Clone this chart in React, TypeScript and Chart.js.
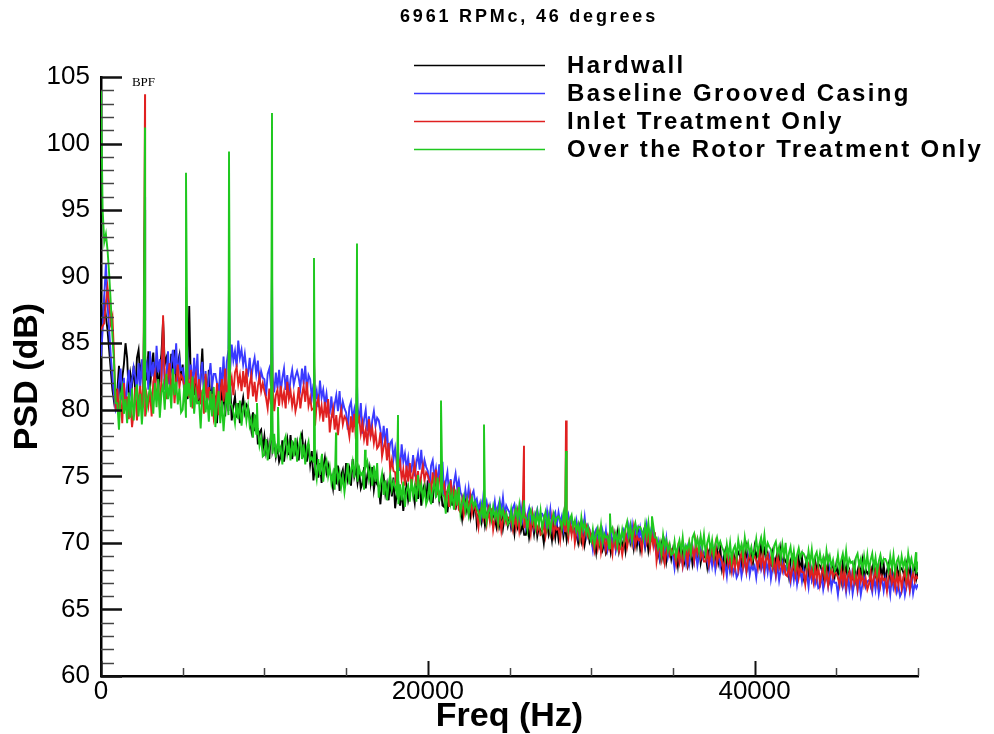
import React, { useEffect, useRef } from 'react';
import { Chart, registerables } from 'chart.js';

Chart.register(...registerables);

// ---------- texts ----------
const TITLE = '6961 RPMc, 46 degrees';
const X_TITLE = 'Freq (Hz)';
const Y_TITLE = 'PSD (dB)';
const SERIES_NAMES = ['Hardwall', 'Baseline Grooved Casing', 'Inlet Treatment Only', 'Over the Rotor Treatment Only'];
const SERIES_COLORS = ['#000000', '#3a3aff', '#e02020', '#1fc81f'];
const BPF_LABEL = 'BPF';
const BPF_LABEL_FREQ = 2600;
const BPF_LABEL_DB = 104.3;

// ---------- axes ----------
const X_MIN = 0;
const X_MAX = 50000;
const X_MINOR_STEP = 5000;
const X_MAJOR_STEP = 20000;
const Y_MIN = 60;
const Y_MAX = 105;
const Y_MINOR_STEP = 1;
const Y_MAJOR_STEP = 5;

// ---------- spectra: one value every FREQ_STEP Hz, 0 Hz .. 50 kHz (one row = 1 kHz) ----------
const FREQ_STEP = 100;

const HARDWALL = [
  85.5, 87.0, 88.2, 87.0, 86.0, 84.5, 83.0, 81.5, 80.6, 81.5,
  81.4, 83.3, 80.8, 82.4, 83.4, 85.0, 83.9, 81.1, 82.7, 81.9,
  83.3, 81.3, 83.9, 84.5, 82.5, 83.6, 81.8, 84.1, 82.2, 84.4,
  81.6, 83.3, 84.3, 81.9, 83.6, 81.3, 83.1, 84.2, 86.7, 83.4,
  83.9, 83.2, 81.9, 84.2, 82.4, 84.5, 81.6, 83.5, 84.1, 82.2,
  83.4, 81.5, 82.6, 80.8, 87.8, 81.8, 82.8, 81.1, 82.3, 80.5,
  80.5, 82.4, 84.6, 81.5, 82.5, 80.7, 83.0, 80.2, 81.8, 81.0,
  81.0, 79.0, 81.6, 82.2, 80.2, 81.3, 79.5, 81.8, 79.9, 82.1,
  79.2, 80.3, 81.0, 79.4, 80.5, 79.0, 80.2, 80.9, 79.8, 80.4,
  80.2, 79.5, 78.5, 79.8, 78.4, 79.6, 77.4, 78.3, 78.5, 77.0,
  78.0, 76.8, 77.5, 76.3, 78.3, 77.0, 77.6, 76.5, 77.3, 76.1,
  76.5, 77.7, 76.1, 77.1, 77.8, 76.6, 78.1, 76.3, 77.3, 76.8,
  77.5, 76.2, 77.8, 78.2, 76.8, 77.4, 76.1, 77.4, 75.9, 76.9,
  74.7, 75.8, 76.5, 74.9, 76.0, 74.5, 75.7, 76.4, 75.3, 75.9,
  75.4, 74.9, 74.1, 75.6, 74.4, 75.8, 73.9, 75.1, 75.5, 74.3,
  76.0, 74.8, 75.5, 74.3, 76.3, 75.0, 75.6, 74.5, 75.3, 74.1,
  74.5, 75.7, 74.1, 75.1, 75.7, 74.5, 75.7, 74.0, 74.9, 74.4,
  74.2, 72.9, 74.6, 75.0, 73.7, 74.4, 73.2, 74.7, 73.5, 74.9,
  72.6, 73.7, 74.4, 72.8, 73.9, 72.4, 73.6, 74.3, 73.2, 73.8,
  74.3, 73.8, 73.0, 74.5, 73.3, 74.7, 72.8, 74.0, 74.4, 73.2,
  74.7, 73.5, 74.2, 73.0, 75.0, 73.7, 74.3, 73.2, 74.0, 72.8,
  72.7, 73.9, 72.3, 73.3, 74.0, 72.8, 74.3, 72.5, 73.5, 73.0,
  72.7, 71.8, 73.0, 73.3, 72.4, 72.9, 72.0, 73.1, 72.2, 73.2,
  71.4, 72.2, 72.7, 71.6, 72.4, 71.3, 72.1, 72.6, 71.9, 72.3,
  72.1, 71.8, 71.2, 72.3, 71.4, 72.4, 71.1, 71.9, 72.2, 71.3,
  71.9, 71.1, 71.6, 70.7, 72.1, 71.2, 71.7, 70.9, 71.4, 70.6,
  70.6, 71.5, 70.4, 71.1, 71.6, 70.7, 71.8, 70.5, 71.2, 70.9,
  70.9, 70.0, 71.2, 71.5, 70.6, 71.1, 70.2, 71.3, 70.4, 71.4,
  70.3, 71.1, 71.6, 70.5, 71.3, 70.2, 71.0, 71.5, 70.8, 71.2,
  70.9, 70.6, 70.0, 71.1, 70.2, 71.2, 69.9, 70.7, 71.0, 70.1,
  70.5, 69.7, 70.2, 69.3, 70.7, 69.8, 70.3, 69.5, 70.0, 69.2,
  69.5, 70.4, 69.3, 70.0, 70.5, 69.6, 70.7, 69.4, 70.1, 69.8,
  70.3, 69.4, 70.6, 70.9, 70.0, 70.5, 69.6, 70.7, 69.8, 70.8,
  69.5, 70.3, 70.8, 69.7, 70.5, 69.4, 70.2, 70.7, 70.0, 70.4,
  69.6, 69.3, 68.7, 69.8, 68.9, 69.9, 68.6, 69.4, 69.7, 68.8,
  69.5, 68.7, 69.2, 68.3, 69.7, 68.8, 69.3, 68.5, 69.0, 68.2,
  68.6, 69.5, 68.4, 69.1, 69.6, 68.7, 69.8, 68.5, 69.2, 68.9,
  69.1, 68.2, 69.4, 69.7, 68.8, 69.3, 68.4, 69.5, 68.6, 69.6,
  68.1, 68.9, 69.4, 68.3, 69.1, 68.0, 68.8, 69.3, 68.6, 69.0,
  69.3, 69.0, 68.4, 69.5, 68.6, 69.6, 68.3, 69.1, 69.4, 68.5,
  69.7, 68.9, 69.4, 68.5, 69.9, 69.0, 69.5, 68.7, 69.2, 68.4,
  68.3, 69.2, 68.1, 68.8, 69.3, 68.4, 69.5, 68.2, 68.9, 68.6,
  68.4, 67.5, 68.7, 69.0, 68.1, 68.6, 67.7, 68.8, 67.9, 68.9,
  67.5, 68.3, 68.8, 67.7, 68.5, 67.4, 68.2, 68.7, 68.0, 68.4,
  68.3, 68.0, 67.4, 68.5, 67.6, 68.6, 67.3, 68.1, 68.4, 67.5,
  68.4, 67.6, 68.1, 67.2, 68.6, 67.7, 68.2, 67.4, 67.9, 67.1,
  67.4, 68.3, 67.2, 67.9, 68.4, 67.5, 68.6, 67.3, 68.0, 67.7,
  67.9, 67.0, 68.2, 68.5, 67.6, 68.1, 67.2, 68.3, 67.4, 68.4,
  67.1, 67.9, 68.4, 67.3, 68.1, 67.0, 67.8, 68.3, 67.6, 68.0,
  68.1, 67.8, 67.2, 68.3, 67.4, 68.4, 67.1, 67.9, 68.2, 67.3,
  67.8,
];

const BASELINE = [
  84.0, 86.0, 88.5, 91.0, 88.0, 86.0, 84.0, 82.5, 81.0, 80.0,
  80.4, 82.1, 83.1, 80.7, 82.4, 80.1, 81.9, 83.0, 81.3, 82.2,
  83.2, 82.5, 81.2, 83.5, 81.7, 83.8, 80.9, 82.8, 83.4, 81.5,
  84.4, 82.5, 83.6, 81.8, 84.8, 82.8, 83.8, 82.1, 85.5, 81.5,
  82.5, 84.4, 81.9, 83.5, 84.5, 82.7, 85.0, 82.2, 83.8, 83.0,
  83.1, 81.1, 83.7, 84.3, 82.3, 83.4, 81.6, 83.9, 82.0, 84.2,
  80.9, 82.6, 83.6, 81.2, 82.9, 80.6, 82.4, 83.5, 81.8, 82.7,
  82.7, 82.0, 80.8, 83.2, 81.6, 84.0, 81.4, 83.6, 84.5, 82.9,
  84.9, 83.7, 84.4, 83.2, 85.2, 83.9, 84.5, 83.4, 84.2, 83.0,
  82.7, 83.9, 82.3, 83.3, 83.9, 82.7, 83.7, 81.9, 82.9, 82.4,
  82.3, 81.0, 82.7, 83.1, 81.8, 82.5, 81.3, 82.8, 81.6, 83.0,
  81.3, 82.4, 83.1, 81.5, 82.6, 81.1, 82.3, 83.0, 81.9, 82.5,
  82.9, 82.4, 81.6, 83.1, 81.9, 83.3, 81.4, 82.6, 82.3, 80.9,
  81.9, 80.7, 81.4, 80.2, 82.2, 80.9, 81.5, 80.4, 81.2, 80.0,
  79.8, 81.0, 79.4, 80.4, 81.1, 79.9, 81.4, 79.6, 80.6, 80.1,
  79.8, 78.5, 80.2, 80.6, 79.3, 80.0, 78.8, 80.3, 79.1, 80.5,
  78.2, 79.3, 80.0, 78.4, 79.5, 78.0, 79.2, 79.9, 78.8, 79.4,
  79.2, 78.5, 77.5, 78.8, 77.4, 78.6, 76.5, 77.5, 77.7, 76.3,
  77.1, 75.9, 76.6, 75.4, 77.4, 76.1, 76.7, 75.6, 76.4, 75.2,
  75.4, 76.6, 75.0, 76.0, 76.7, 75.5, 77.0, 75.2, 76.2, 75.7,
  75.4, 74.1, 75.8, 76.2, 74.9, 75.6, 74.4, 75.9, 74.7, 76.1,
  73.5, 74.6, 75.3, 73.7, 74.8, 73.3, 74.5, 75.2, 74.1, 74.7,
  73.8, 73.5, 72.9, 74.0, 73.1, 74.1, 72.8, 73.6, 73.9, 73.0,
  73.3, 72.5, 73.0, 72.1, 73.5, 72.6, 73.1, 72.3, 72.8, 72.0,
  72.2, 73.1, 72.0, 72.7, 73.2, 72.3, 73.4, 72.1, 72.8, 72.5,
  72.3, 71.4, 72.6, 72.9, 72.0, 72.5, 71.6, 72.7, 71.8, 72.8,
  71.3, 72.1, 72.6, 71.5, 72.3, 71.2, 72.0, 72.5, 71.8, 72.2,
  72.2, 71.9, 71.3, 72.4, 71.5, 72.5, 71.2, 72.0, 72.3, 71.4,
  72.3, 71.5, 72.0, 71.1, 72.5, 71.6, 72.1, 71.3, 71.8, 71.0,
  70.7, 71.6, 70.5, 71.2, 71.7, 70.8, 71.9, 70.6, 71.3, 71.0,
  70.4, 69.5, 70.7, 71.0, 70.1, 70.6, 69.7, 70.8, 69.9, 70.9,
  69.6, 70.4, 70.9, 69.8, 70.6, 69.5, 70.3, 70.8, 70.1, 70.5,
  71.0, 70.7, 70.1, 71.2, 70.3, 71.3, 70.0, 70.8, 71.1, 70.2,
  71.1, 70.3, 70.8, 69.9, 71.3, 70.4, 70.9, 70.1, 70.6, 69.8,
  69.1, 70.0, 68.9, 69.6, 70.1, 69.2, 70.3, 69.0, 69.7, 69.4,
  69.0, 68.1, 69.3, 69.6, 68.7, 69.2, 68.3, 69.4, 68.5, 69.5,
  68.4, 69.2, 69.7, 68.6, 69.4, 68.3, 69.1, 69.6, 68.9, 69.3,
  69.0, 68.7, 68.1, 69.2, 68.3, 69.3, 68.0, 68.8, 69.1, 68.2,
  68.7, 67.9, 68.4, 67.5, 68.9, 68.0, 68.5, 67.7, 68.2, 67.4,
  67.7, 68.6, 67.5, 68.2, 68.7, 67.8, 68.9, 67.6, 68.3, 68.0,
  68.3, 67.4, 68.6, 68.9, 68.0, 68.5, 67.6, 68.7, 67.8, 68.8,
  67.3, 68.1, 68.6, 67.5, 68.3, 67.2, 68.0, 68.5, 67.8, 68.2,
  67.9, 67.6, 67.0, 68.1, 67.2, 68.2, 66.9, 67.7, 68.0, 67.1,
  67.9, 67.1, 67.6, 66.7, 68.1, 67.2, 67.7, 66.9, 67.4, 66.6,
  66.7, 67.6, 66.5, 67.2, 67.7, 66.8, 67.9, 66.6, 67.3, 67.0,
  67.0, 66.1, 67.3, 67.6, 66.7, 67.2, 66.3, 67.4, 66.5, 67.5,
  66.2, 67.0, 67.5, 66.4, 67.2, 66.1, 66.9, 67.4, 66.7, 67.1,
  67.2, 66.9, 66.3, 67.4, 66.5, 67.5, 66.2, 67.0, 67.3, 66.4,
  67.3, 66.5, 67.0, 66.1, 67.5, 66.6, 67.1, 66.3, 66.8, 66.0,
  66.3, 67.2, 66.1, 66.8, 67.3, 66.4, 67.5, 66.2, 66.9, 66.6,
  66.9,
];

const INLET = [
  86.0, 86.3, 86.5, 88.0, 89.2, 88.0, 86.5, 87.0, 84.0, 80.0,
  81.6, 79.7, 80.8, 79.0, 82.0, 80.0, 81.0, 79.3, 80.5, 78.7,
  79.8, 81.7, 79.2, 80.8, 81.8, 80.0, 82.3, 79.5, 81.1, 80.3,
  81.5, 79.5, 82.1, 82.7, 80.7, 81.8, 80.0, 82.3, 87.1, 82.6,
  80.8, 82.5, 83.5, 81.1, 82.8, 80.5, 82.3, 83.4, 81.7, 82.6,
  82.4, 81.7, 80.4, 82.7, 80.9, 83.0, 80.1, 82.0, 82.6, 80.7,
  82.3, 80.4, 81.5, 79.7, 82.7, 80.7, 81.7, 80.0, 81.2, 79.4,
  80.1, 82.0, 79.6, 81.2, 82.3, 80.6, 83.1, 80.5, 82.3, 81.7,
  82.4, 81.1, 82.8, 83.2, 81.9, 82.6, 81.4, 82.9, 81.7, 83.1,
  80.8, 81.9, 82.6, 81.0, 82.1, 80.6, 81.8, 82.5, 81.4, 82.0,
  81.4, 80.9, 80.1, 81.6, 80.4, 81.8, 79.9, 81.1, 81.5, 80.3,
  81.8, 80.6, 81.3, 80.1, 82.1, 80.8, 81.4, 80.3, 81.1, 79.9,
  80.5, 81.7, 80.1, 81.1, 81.8, 80.6, 82.1, 80.3, 80.9, 80.0,
  80.1, 78.8, 80.5, 80.9, 79.6, 80.3, 79.1, 80.6, 79.4, 80.8,
  78.3, 79.4, 80.1, 78.5, 79.6, 78.1, 79.3, 80.0, 78.9, 79.5,
  79.3, 78.8, 78.0, 79.5, 78.3, 79.7, 77.8, 79.0, 79.4, 78.2,
  79.0, 77.8, 78.5, 77.3, 79.3, 78.0, 78.6, 77.5, 78.3, 77.1,
  77.3, 78.3, 76.5, 77.2, 77.7, 76.2, 77.5, 75.4, 76.2, 75.4,
  75.3, 74.0, 75.7, 76.1, 74.8, 75.5, 74.3, 75.8, 74.6, 76.0,
  74.1, 75.2, 75.9, 74.3, 75.4, 73.9, 75.1, 75.8, 74.7, 75.3,
  75.1, 74.6, 73.8, 75.3, 74.1, 75.5, 73.6, 74.8, 75.2, 74.0,
  74.4, 73.2, 73.9, 72.7, 74.7, 73.4, 74.0, 72.9, 73.7, 72.5,
  72.3, 73.2, 72.1, 72.8, 73.3, 72.4, 73.5, 72.2, 72.9, 72.6,
  72.1, 71.2, 72.4, 72.7, 71.8, 72.3, 71.4, 72.5, 71.6, 72.6,
  71.0, 71.8, 72.3, 71.2, 72.0, 70.9, 71.7, 72.2, 71.5, 71.9,
  71.9, 71.6, 71.0, 72.1, 71.2, 72.2, 70.9, 71.7, 72.0, 71.1,
  71.9, 71.1, 71.6, 70.7, 72.1, 71.2, 71.7, 70.9, 71.4, 70.6,
  70.7, 71.6, 70.5, 71.2, 71.7, 70.8, 71.9, 70.6, 71.3, 71.0,
  71.1, 70.2, 71.4, 71.7, 70.8, 71.3, 70.4, 71.5, 70.6, 71.6,
  70.0, 70.8, 71.3, 70.2, 71.0, 69.9, 70.7, 71.2, 70.5, 70.9,
  70.3, 70.0, 69.4, 70.5, 69.6, 70.6, 69.3, 70.1, 70.4, 69.5,
  70.4, 69.6, 70.1, 69.2, 70.6, 69.7, 70.2, 69.4, 69.9, 69.1,
  69.9, 70.8, 69.7, 70.4, 70.9, 70.0, 71.1, 69.8, 70.5, 70.2,
  70.3, 69.4, 70.6, 70.9, 70.0, 70.5, 69.6, 70.7, 69.8, 70.8,
  68.6, 69.4, 69.9, 68.8, 69.6, 68.5, 69.3, 69.8, 69.1, 69.5,
  69.3, 69.0, 68.4, 69.5, 68.6, 69.6, 68.3, 69.1, 69.4, 68.5,
  69.9, 69.1, 69.6, 68.7, 70.1, 69.2, 69.7, 68.9, 69.4, 68.6,
  68.6, 69.5, 68.4, 69.1, 69.6, 68.7, 69.8, 68.5, 69.2, 68.9,
  68.6, 67.7, 68.9, 69.2, 68.3, 68.8, 67.9, 69.0, 68.1, 69.1,
  68.0, 68.8, 69.3, 68.2, 69.0, 67.9, 68.7, 69.2, 68.5, 68.9,
  69.0, 68.7, 68.1, 69.2, 68.3, 69.3, 68.0, 68.8, 69.1, 68.2,
  68.9, 68.1, 68.6, 67.7, 69.1, 68.2, 68.7, 67.9, 68.4, 67.6,
  67.5, 68.4, 67.3, 68.0, 68.5, 67.6, 68.7, 67.4, 68.1, 67.8,
  67.8, 66.9, 68.1, 68.4, 67.5, 68.0, 67.1, 68.2, 67.3, 68.3,
  66.9, 67.7, 68.2, 67.1, 67.9, 66.8, 67.6, 68.1, 67.4, 67.8,
  67.7, 67.4, 66.8, 67.9, 67.0, 68.0, 66.7, 67.5, 67.8, 66.9,
  67.8, 67.0, 67.5, 66.6, 68.0, 67.1, 67.6, 66.8, 67.3, 66.5,
  66.9, 67.8, 66.7, 67.4, 67.9, 67.0, 68.1, 66.8, 67.5, 67.2,
  67.3, 66.4, 67.6, 67.9, 67.0, 67.5, 66.6, 67.7, 66.8, 67.8,
  66.6, 67.4, 67.9, 66.8, 67.6, 66.5, 67.3, 67.8, 67.1, 67.5,
  67.3,
];

const OVER_ROTOR = [
  104.0, 95.0, 92.6, 93.2, 92.0, 90.2, 88.0, 85.5, 83.5, 80.5,
  80.5, 78.5, 81.1, 81.7, 79.7, 80.8, 79.0, 81.3, 79.4, 81.6,
  79.2, 80.9, 81.9, 79.5, 81.2, 78.9, 80.7, 81.8, 80.1, 81.0,
  81.7, 81.0, 79.7, 82.0, 80.2, 82.3, 79.4, 81.3, 81.9, 80.0,
  82.7, 80.8, 81.9, 80.1, 83.1, 81.1, 82.1, 80.4, 81.6, 79.8,
  80.0, 81.9, 79.4, 81.0, 82.0, 80.2, 82.5, 79.7, 81.3, 80.5,
  80.6, 78.6, 81.2, 81.8, 79.8, 80.9, 79.1, 81.4, 79.5, 81.7,
  78.7, 80.4, 81.4, 79.0, 80.7, 78.4, 80.2, 81.3, 79.6, 80.5,
  80.3, 79.8, 79.0, 80.5, 79.3, 80.7, 78.8, 80.0, 80.4, 79.2,
  80.2, 78.8, 79.3, 77.9, 79.7, 78.2, 78.6, 77.3, 77.9, 76.5,
  76.6, 77.8, 76.2, 77.2, 77.9, 76.7, 78.2, 76.4, 77.4, 76.9,
  77.2, 75.9, 77.6, 78.0, 76.7, 77.4, 76.2, 77.7, 76.5, 77.9,
  76.1, 77.2, 77.9, 76.3, 77.4, 75.9, 77.1, 77.6, 76.2, 76.4,
  76.1, 75.6, 74.8, 76.3, 75.1, 76.5, 74.6, 75.8, 76.2, 75.0,
  75.7, 74.5, 75.2, 74.0, 76.0, 74.7, 75.3, 74.2, 75.0, 73.8,
  74.8, 76.0, 74.4, 75.4, 76.1, 74.9, 76.4, 74.6, 75.6, 75.1,
  75.3, 74.0, 75.7, 76.1, 74.8, 75.5, 74.3, 75.8, 74.6, 76.0,
  73.4, 74.5, 75.2, 73.6, 74.7, 73.2, 74.4, 75.1, 74.0, 74.6,
  74.2, 73.7, 72.9, 74.4, 73.2, 74.6, 72.7, 73.9, 74.3, 73.1,
  74.8, 73.6, 74.3, 73.1, 75.1, 73.8, 74.4, 73.3, 74.1, 72.9,
  73.3, 74.5, 72.9, 73.9, 74.6, 73.4, 74.9, 73.1, 74.1, 73.6,
  73.5, 72.2, 73.9, 74.3, 73.0, 73.7, 72.5, 74.0, 72.8, 74.2,
  72.2, 73.0, 73.5, 72.4, 73.2, 72.1, 72.9, 73.4, 72.7, 73.1,
  72.6, 72.3, 71.7, 72.8, 71.9, 72.9, 71.6, 72.4, 72.7, 71.8,
  72.7, 71.9, 72.4, 71.5, 72.9, 72.0, 72.5, 71.7, 72.2, 71.4,
  71.6, 72.5, 71.4, 72.1, 72.6, 71.7, 72.8, 71.5, 72.2, 71.9,
  71.9, 71.0, 72.2, 72.5, 71.6, 72.1, 71.2, 72.3, 71.4, 72.4,
  71.0, 71.8, 72.3, 71.2, 72.0, 70.9, 71.7, 72.2, 71.5, 71.9,
  72.0, 71.7, 71.1, 72.2, 71.3, 72.3, 71.0, 71.8, 72.1, 71.2,
  71.7, 70.9, 71.4, 70.5, 71.9, 71.0, 71.5, 70.7, 71.2, 70.4,
  70.1, 71.0, 69.9, 70.6, 71.1, 70.2, 71.3, 70.0, 70.7, 70.4,
  70.5, 69.6, 70.8, 71.1, 70.2, 70.7, 69.8, 70.9, 70.0, 71.0,
  70.3, 71.1, 71.6, 70.5, 71.3, 70.2, 71.0, 71.5, 70.8, 71.2,
  71.2, 70.9, 70.3, 71.4, 70.5, 71.5, 70.2, 71.0, 71.3, 70.4,
  70.4, 69.6, 70.1, 69.2, 70.6, 69.7, 70.2, 69.4, 69.9, 69.1,
  69.2, 70.1, 69.0, 69.7, 70.2, 69.3, 70.4, 69.1, 69.8, 69.5,
  70.1, 69.2, 70.4, 70.7, 69.8, 70.3, 69.4, 70.5, 69.6, 70.6,
  69.2, 70.0, 70.5, 69.4, 70.2, 69.1, 69.9, 70.4, 69.7, 70.1,
  69.7, 69.4, 68.8, 69.9, 69.0, 70.0, 68.7, 69.5, 69.8, 68.9,
  70.2, 69.4, 69.9, 69.0, 70.4, 69.5, 70.0, 69.2, 69.7, 68.9,
  69.4, 70.3, 69.2, 69.9, 70.4, 69.5, 70.6, 69.3, 70.0, 69.7,
  69.5, 68.6, 69.8, 70.1, 69.2, 69.7, 68.8, 69.9, 69.0, 70.0,
  68.4, 69.2, 69.7, 68.6, 69.4, 68.3, 69.1, 69.6, 68.9, 69.3,
  69.2, 68.9, 68.3, 69.4, 68.5, 69.5, 68.2, 69.0, 69.3, 68.4,
  69.2, 68.4, 68.9, 68.0, 69.4, 68.5, 69.0, 68.2, 68.7, 67.9,
  68.2, 69.1, 68.0, 68.7, 69.2, 68.3, 69.4, 68.1, 68.8, 68.5,
  68.6, 67.7, 68.9, 69.2, 68.3, 68.8, 67.9, 69.0, 68.1, 69.1,
  67.9, 68.7, 69.2, 68.1, 68.9, 67.8, 68.6, 69.1, 68.4, 68.8,
  68.8, 68.5, 67.9, 69.0, 68.1, 69.1, 67.8, 68.6, 68.9, 68.0,
  69.0, 68.2, 68.7, 67.8, 69.2, 68.3, 68.8, 68.0, 68.5, 67.7,
  68.6,
];

// ---------- narrow tones (frequency in Hz, peak level in dB) ----------
const HARDWALL_TONES = [
  [2693, 95.0], [5202, 84.0], [7834, 83.0], [10465, 80.0],
];
const BASELINE_TONES = [
  [2693, 96.0], [5202, 86.0], [7834, 89.6], [10465, 90.5], [13035, 83.5], [15667, 82.0], [33721, 71.3],
];
const INLET_TONES = [
  [2693, 103.7], [5202, 89.2], [7834, 85.2], [10465, 85.0], [13035, 84.3], [15667, 80.6],
  [18176, 78.0], [25887, 77.3], [28458, 79.2],
];
const OVER_ROTOR_TONES = [
  [2693, 101.2], [5202, 97.8], [7834, 99.4], [9547, 80.5], [10465, 102.3], [10832, 80.2],
  [13035, 91.4], [13525, 76.7], [14382, 78.3], [15667, 92.5], [16157, 77.0], [18176, 79.6],
  [20808, 80.7], [23439, 78.9], [25887, 73.2], [28458, 76.9], [31150, 72.2], [33721, 72.0],
  [49878, 69.3],
];

const SERIES_VALUES = [HARDWALL, BASELINE, INLET, OVER_ROTOR];
const SERIES_TONES = [HARDWALL_TONES, BASELINE_TONES, INLET_TONES, OVER_ROTOR_TONES];

function buildPoints(values: number[], tones: number[][]) {
  const pts = values.map((v, i) => ({ x: i * FREQ_STEP, y: v }));
  tones.forEach(([f, db]) => pts.push({ x: f, y: db }));
  pts.sort((a, b) => a.x - b.x);
  return pts;
}

const FONT = "'Liberation Sans', Arial, Helvetica, sans-serif";

const decorPlugin = {
  id: 'decor',
  afterDraw(chart: any) {
    const { ctx, chartArea, scales } = chart;
    const xs = scales.x;
    const ys = scales.y;
    ctx.save();
    // y ticks pointing inward
    for (let v = Y_MIN; v <= Y_MAX; v += Y_MINOR_STEP) {
      const py = Math.round(ys.getPixelForValue(v)) + 0.5;
      const major = v % Y_MAJOR_STEP === 0;
      ctx.lineWidth = major ? 2.5 : 1.5;
      ctx.strokeStyle = major ? '#111' : '#444';
      ctx.beginPath();
      ctx.moveTo(chartArea.left, py);
      ctx.lineTo(chartArea.left + (major ? 21 : 13), py);
      ctx.stroke();
    }
    // x ticks pointing inward
    for (let v = X_MIN; v <= X_MAX; v += X_MINOR_STEP) {
      const px = Math.round(xs.getPixelForValue(v)) + 0.5;
      const major = v % X_MAJOR_STEP === 0;
      ctx.lineWidth = major ? 2 : 1.5;
      ctx.strokeStyle = major ? '#111' : '#444';
      ctx.beginPath();
      ctx.moveTo(px, chartArea.bottom);
      ctx.lineTo(px, chartArea.bottom - (major ? 15 : 8));
      ctx.stroke();
    }
    // BPF annotation
    ctx.fillStyle = '#000';
    ctx.font = "13px 'Liberation Serif', 'Times New Roman', serif";
    ctx.textAlign = 'center';
    ctx.textBaseline = 'alphabetic';
    ctx.fillText(BPF_LABEL, xs.getPixelForValue(BPF_LABEL_FREQ), ys.getPixelForValue(BPF_LABEL_DB));
    // title
    (ctx as any).letterSpacing = '2.8px';
    ctx.font = `bold 18px ${FONT}`;
    ctx.textBaseline = 'middle';
    ctx.textAlign = 'center';
    ctx.fillText(TITLE, 529, 17);
    // legend
    (ctx as any).letterSpacing = '2.3px';
    ctx.font = `bold 24px ${FONT}`;
    ctx.textAlign = 'left';
    const rowsY = [65, 93, 121, 149];
    SERIES_NAMES.forEach((name, i) => {
      const ry = rowsY[i];
      ctx.strokeStyle = SERIES_COLORS[i];
      ctx.lineWidth = 1.5;
      ctx.beginPath();
      ctx.moveTo(414, ry + 0.5);
      ctx.lineTo(545, ry + 0.5);
      ctx.stroke();
      ctx.fillStyle = '#000';
      ctx.fillText(name, 567, ry + 1);
    });
    ctx.restore();
  },
};

export default function App() {
  const ref = useRef<HTMLCanvasElement | null>(null);
  useEffect(() => {
    if (!ref.current) return;
    const datasets = SERIES_NAMES.map((name, i) => ({
      label: name,
      data: buildPoints(SERIES_VALUES[i], SERIES_TONES[i]),
      borderColor: SERIES_COLORS[i],
      backgroundColor: SERIES_COLORS[i],
      borderWidth: 1.9,
      pointRadius: 0,
      tension: 0,
      fill: false,
      order: 3 - i,
    }));
    const chart = new Chart(ref.current, {
      type: 'line',
      data: { datasets },
      options: {
        animation: false,
        responsive: false,
        layout: { padding: { left: 0, right: 76, top: 77, bottom: 0 } },
        plugins: {
          legend: { display: false },
          tooltip: { enabled: false },
          title: { display: false },
        },
        scales: {
          x: {
            type: 'linear',
            min: X_MIN,
            max: X_MAX,
            afterFit: (s: any) => { s.height = 58; },
            ticks: {
              stepSize: X_MINOR_STEP,
              autoSkip: false,
              maxRotation: 0,
              padding: 0,
              color: '#000',
              font: { family: FONT, size: 26 },
              callback: (v: any) => (Number(v) % X_MAJOR_STEP === 0 ? String(v) : ''),
            },
            grid: { display: false, drawTicks: false },
            border: { display: true, color: '#000', width: 2.5 },
            title: {
              display: true,
              text: X_TITLE,
              color: '#000',
              font: { family: FONT, size: 34, weight: 'bold', lineHeight: 1 },
              padding: 0,
            },
          },
          y: {
            type: 'linear',
            min: Y_MIN,
            max: Y_MAX,
            afterFit: (s: any) => { s.width = 101; },
            ticks: {
              stepSize: Y_MAJOR_STEP,
              padding: 11,
              color: '#000',
              font: { family: FONT, size: 26 },
            },
            grid: { display: false, drawTicks: false },
            border: { display: true, color: '#000', width: 2.5 },
            title: {
              display: true,
              text: Y_TITLE,
              color: '#000',
              font: { family: FONT, size: 34, weight: 'bold', lineHeight: 1 },
              padding: { top: 11, bottom: 0 },
            },
          },
        },
      },
      plugins: [decorPlugin],
    } as any);
    return () => chart.destroy();
  }, []);
  return (
    <div style={{ position: 'absolute', left: 0, top: 0, width: 994, height: 734, background: '#fff' }}>
      <canvas ref={ref} width={994} height={734} style={{ display: 'block' }} />
    </div>
  );
}
